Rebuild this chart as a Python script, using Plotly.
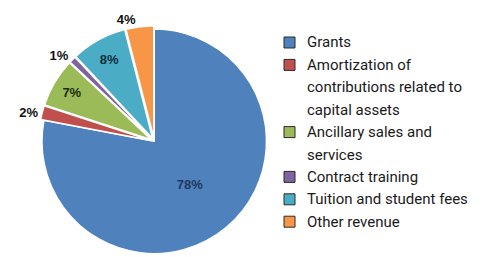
import plotly.graph_objects as go

categories = ["Grants", "Amortization of contributions related to capital assets",
              "Ancillary sales and services", "Contract training",
              "Tuition and student fees", "Other revenue"]
legend_lines = [["Grants"], ["Amortization of", "contributions related to", "capital assets"],
                ["Ancillary sales and", "services"], ["Contract training"],
                ["Tuition and student fees"], ["Other revenue"]]
values = [78, 2, 7, 1, 8, 4]
colors = ["#4f81bd", "#c0504d", "#9bbb59", "#8064a2", "#4bacc6", "#f79646"]
pulls = [0, 0.03, 0.03, 0.03, 0.03, 0.03]
textpos = ["inside", "outside", "inside", "outside", "inside", "outside"]
textcols = ["#1f3a60", "#111111", "#1e2e10", "#111111", "#10303a", "#111111"]

fig = go.Figure()
fig.add_trace(go.Pie(
    labels=categories, values=values, sort=False, direction="clockwise", rotation=0,
    marker=dict(colors=colors, line=dict(color="white", width=1.5)),
    pull=pulls, textposition=textpos, texttemplate="%{percent:.0%}",
    textfont=dict(family="Liberation Sans", size=13, color=textcols, weight="bold"),
    insidetextorientation="horizontal", automargin=False,
    domain=dict(x=[0.07, 0.57], y=[0.0, 0.9]),
    showlegend=False, hoverinfo="label+percent",
))

# manual legend
line_h = 22.4
y0 = 42.5
shapes = []
annotations = []
k = 0
for i, lines in enumerate(legend_lines):
    yc = y0 + k * line_h
    shapes.append(dict(type="rect", xref="paper", yref="paper",
                       x0=284 / 482, x1=295 / 482,
                       y0=1 - (yc + 5.5) / 257, y1=1 - (yc - 5.5) / 257,
                       fillcolor=colors[i], line=dict(color="#2b2b2b", width=1)))
    for j, t in enumerate(lines):
        annotations.append(dict(xref="paper", yref="paper", x=305 / 482,
                                y=1 - (y0 + (k + j) * line_h) / 257,
                                xanchor="left", yanchor="middle", showarrow=False,
                                text=t, font=dict(family="Roboto", size=15, color="#1a1a1a")))
    k += len(lines)

fig.update_layout(width=482, height=257,
                  margin=dict(l=0, r=0, t=0, b=0, autoexpand=False),
                  paper_bgcolor="white", plot_bgcolor="white",
                  shapes=shapes, annotations=annotations)
fig.write_html("out.html", config={"displayModeBar": False},
               post_script="document.body.style.margin='0';")
